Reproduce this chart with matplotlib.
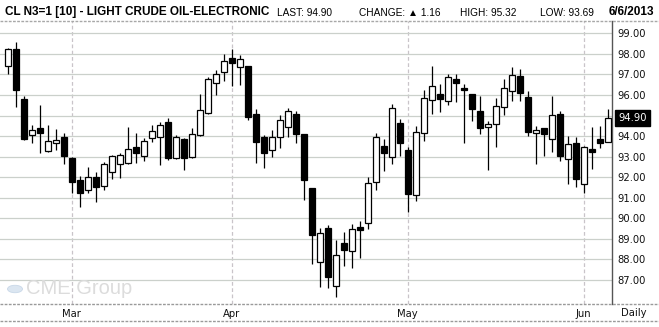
import matplotlib
matplotlib.use("Agg")
import matplotlib.pyplot as plt
import numpy as np
import pandas as pd
from matplotlib.lines import Line2D
from matplotlib.patches import Circle
from matplotlib.transforms import blended_transform_factory

# Daily sessions for the July 2013 light crude contract
sessions = pd.bdate_range("2013-02-19", "2013-06-06", freq="C",
                          holidays=["2013-03-29", "2013-05-27"])

opens = [97.40, 98.22, 95.79, 94.04, 94.40, 93.26, 93.65, 93.94,
         92.94, 91.85, 91.40, 92.00, 91.56, 92.27, 92.66, 92.71, 93.47, 93.02,
         93.89, 93.94, 94.67, 92.92, 93.86, 93.00, 94.04, 95.11, 96.57, 97.10,
         97.80, 97.35, 97.41, 95.08, 93.96, 93.31, 93.98, 94.46, 95.06, 94.11,
         91.46, 87.87, 89.52, 86.73, 88.79, 88.40, 89.57, 89.76, 91.79, 93.52,
         92.99, 94.62, 93.31, 91.12, 94.17, 95.74, 96.05, 95.69, 96.78, 96.34,
         96.05, 95.22, 94.43, 94.58, 95.40, 96.21, 96.91, 95.90, 94.14, 94.40,
         93.85, 95.06, 92.87, 93.65, 91.69, 93.38, 93.86, 93.72]
highs = [98.27, 98.58, 95.94, 94.53, 95.50, 94.53, 94.33, 94.14,
         92.98, 92.08, 92.50, 92.26, 92.73, 93.08, 93.20, 94.45, 94.15, 93.91,
         94.53, 94.67, 94.87, 94.04, 93.89, 94.40, 96.05, 96.86, 97.22, 98.01,
         98.22, 97.95, 97.43, 95.30, 94.04, 94.30, 95.03, 95.37, 95.24, 94.12,
         91.47, 89.52, 89.66, 88.95, 89.31, 89.73, 89.88, 92.03, 94.14, 93.85,
         95.56, 94.83, 93.46, 94.48, 96.24, 97.41, 96.54, 97.02, 97.02, 96.54,
         96.06, 95.95, 94.74, 95.84, 96.76, 97.35, 97.27, 96.20, 94.49, 94.41,
         95.97, 95.22, 94.01, 93.96, 93.50, 94.45, 94.51, 95.32]
lows = [97.01, 95.43, 93.83, 93.64, 93.20, 93.24, 93.34, 92.66,
        91.25, 90.57, 91.25, 90.77, 91.40, 91.90, 91.98, 92.65, 92.71, 92.81,
        93.73, 92.61, 92.86, 92.90, 92.37, 92.91, 94.02, 95.09, 96.02, 96.70,
        96.46, 96.50, 94.77, 92.71, 92.47, 93.00, 93.44, 93.98, 93.64, 90.91,
        87.80, 86.68, 86.60, 86.15, 87.68, 87.59, 88.08, 89.49, 91.40, 92.31,
        92.66, 93.04, 90.33, 90.86, 93.78, 95.08, 95.15, 95.50, 95.65, 93.64,
        94.71, 94.12, 92.37, 93.49, 95.03, 95.71, 95.71, 94.02, 92.64, 93.05,
        93.25, 92.81, 91.66, 91.54, 91.25, 92.39, 93.41, 93.69]
closes = [98.22, 96.26, 93.88, 94.28, 94.17, 93.75, 93.80, 93.05,
          91.79, 91.25, 92.00, 91.51, 92.63, 93.02, 93.07, 93.38, 93.20, 93.75,
          94.24, 94.53, 92.95, 93.94, 92.95, 94.09, 95.27, 96.76, 97.01, 97.64,
          97.54, 97.74, 94.95, 93.73, 93.20, 93.94, 94.79, 95.22, 94.09, 91.84,
          89.19, 89.28, 87.12, 88.21, 88.45, 89.47, 89.41, 91.71, 93.94, 93.20,
          95.37, 93.64, 91.20, 94.19, 95.84, 96.42, 95.82, 96.86, 96.60, 96.26,
          95.34, 94.41, 94.58, 95.45, 96.33, 96.97, 96.11, 94.22, 94.28, 94.09,
          95.03, 93.05, 93.62, 91.93, 93.46, 93.25, 93.68, 94.90]

price_ticks = list(range(87, 100))
month_labels = ["Mar", "Apr", "May", "Jun"]

title = "CL N3=1 [10] - LIGHT CRUDE OIL-ELECTRONIC"
last, change, day_high, day_low = 94.90, 1.16, 95.32, 93.69
quote_date = "6/6/2013"

W, H = 659, 327
fig = plt.figure(figsize=(W / 100, H / 100), dpi=100)
fig.patch.set_facecolor("white")


def fx(px):
    return px / W


def fy(py):
    return 1 - py / H


ax = fig.add_axes([0, fy(304), 612 / W, (304 - 21) / H])
ax.set_facecolor("white")

x = np.arange(len(opens))
o = np.array(opens)
c = np.array(closes)
hi = np.array(highs)
lo = np.array(lows)
up = c >= o

# wicks, then bodies on top (hollow for up sessions)
ax.vlines(x, lo, hi, color="black", lw=0.9, zorder=3)
body_bottom = np.minimum(o, c)
body_height = np.maximum(np.abs(c - o), 0.07)
ax.bar(x, body_height, bottom=body_bottom, width=0.72,
       color=np.where(up, "white", "black"), edgecolor="black",
       linewidth=0.9, zorder=4)

ax.set_xlim(-7.7 / 8, (612 - 7.7) / 8)
ax.set_ylim(85.83, 99.60)

# month starts
month_first = [int(np.argmax((sessions.month == m) & (sessions.year == 2013)))
               for m in (3, 4, 5, 6)]
ax.set_xticks(month_first)
ax.set_xticklabels(month_labels)
ax.set_yticks(price_ticks)
ax.set_yticklabels(["" if abs(t - last) < 0.5 else f"{t:.2f}" for t in price_ticks])
ax.yaxis.tick_right()
ax.tick_params(axis="y", length=0, pad=4, labelsize=7.2, labelcolor="#111111")
ax.tick_params(axis="x", length=0, pad=3.5, labelsize=7.2, labelcolor="#111111")
for lab in ax.get_xticklabels() + ax.get_yticklabels():
    lab.set_fontfamily("DejaVu Sans")

ax.grid(axis="y", color="#cbd0cb", lw=0.9, zorder=0)
ax.grid(axis="x", color="#c9c4c9", lw=0.9, ls=(0, (3, 2)), zorder=0)
ax.set_axisbelow(True)

for side in ("left", "top", "bottom"):
    ax.spines[side].set_visible(False)
ax.spines["right"].set_color("#555555")
ax.spines["right"].set_linewidth(1.0)

# last price marker on the price scale
tr = blended_transform_factory(ax.transAxes, ax.transData)
ax.text(1 + 6 / 612, last, f"{last:.2f}", transform=tr, ha="left", va="center",
        color="white", fontsize=7.2, family="DejaVu Sans", zorder=6,
        bbox=dict(boxstyle="square,pad=0.3", fc="black", ec="black"),
        clip_on=False)

# frame lines across the full width
for py, col in ((21, "#a8a8a8"), (304, "#9a9a9a"), (321, "#9a9a9a")):
    fig.add_artist(Line2D([0, 1], [fy(py), fy(py)], transform=fig.transFigure,
                          color=col, lw=1.0, ls=(0, (2, 1))))

# header
bold = dict(fontsize=8.5, fontweight="bold",
            family=["Liberation Sans", "DejaVu Sans"], va="center",
            color="black")
fig.text(fx(5), fy(12), title, ha="left", **bold)
small = dict(fontsize=7.3, family=["Liberation Sans", "DejaVu Sans"],
             va="center", ha="left", color="black")
fig.text(fx(277), fy(12.5), f"LAST: {last:.2f}", **small)
fig.text(fx(359), fy(12.5), f"CHANGE: \u25B2 {change:.2f}", **small)
fig.text(fx(460), fy(12.5), f"HIGH: {day_high:.2f}", **small)
fig.text(fx(540), fy(12.5), f"LOW: {day_low:.2f}", **small)
fig.text(fx(654), fy(12), quote_date, ha="right", **bold)

fig.text(fx(621), fy(313), "Daily", fontsize=7.2, family="DejaVu Sans",
         va="center", ha="left", color="#111111")

# watermark
fig.add_artist(Circle((fx(15), fy(289)), 7.5 / W, transform=fig.transFigure,
                      facecolor="#dbe6f1", edgecolor="#c9d8e8", lw=0.6,
                      zorder=1))
fig.text(fx(26), fy(289), "CME Group", fontsize=14.5,
         family=["Liberation Sans", "DejaVu Sans"], va="center", ha="left",
         color="#dcdcdc", zorder=1)

fig.savefig("out.png", dpi=100, facecolor="white")
